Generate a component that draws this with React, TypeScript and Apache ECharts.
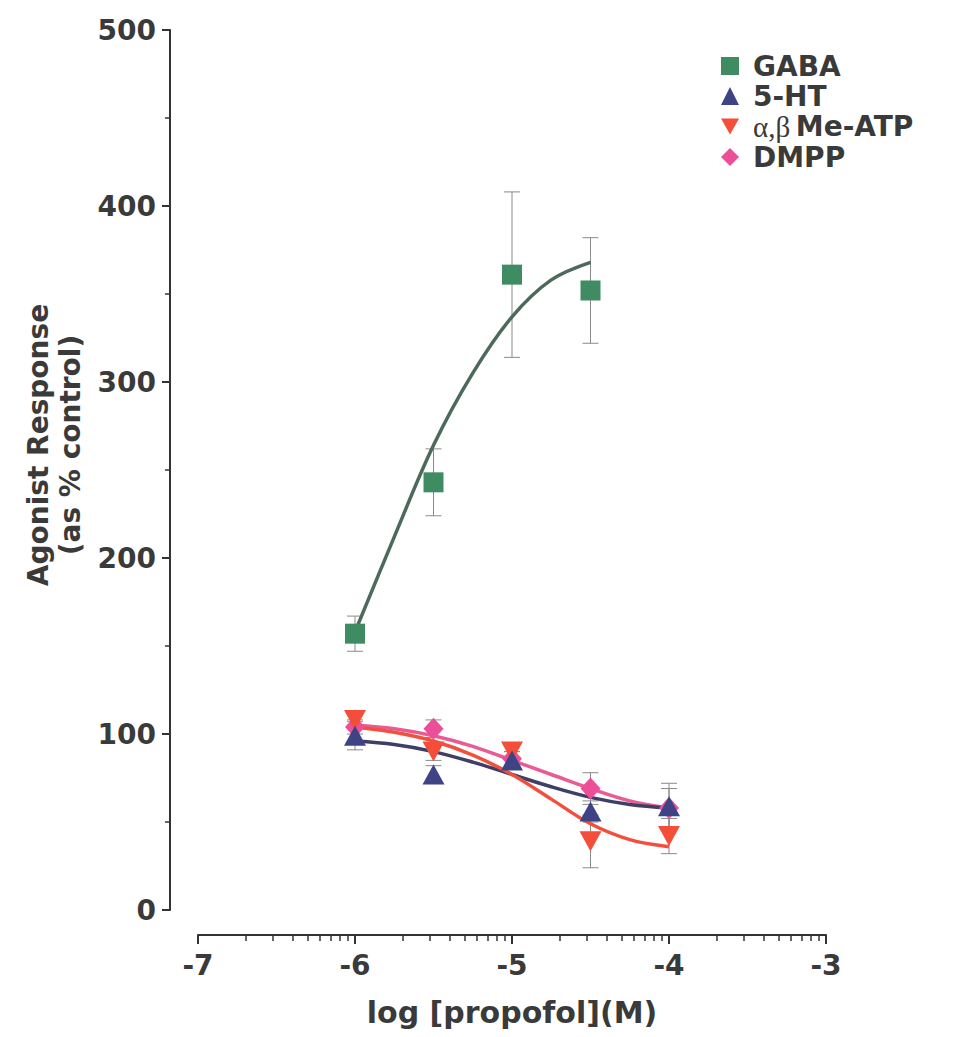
import React, { useEffect, useRef } from "react";
import * as echarts from "echarts";

// ---- data ----
const concentrations = [-6, -5.5, -5, -4.5, -4];
const gabaConc = [-6, -5.5, -5, -4.5];
const gabaMean = [157, 243, 361, 352];
const gabaSem = [10, 19, 47, 30];
const htMean = [99, 77, 85, 56, 59];
const htSem = [8, 5, 5, 6, 13];
const atpMean = [108, 90, 90, 39, 42];
const atpSem = [4, 5, 4, 15, 10];
const dmppMean = [104, 103, 86, 69, 58];
const dmppSem = [4, 5, 4, 9, 11];

const fitX = [-6, -5.75, -5.5, -5.25, -5, -4.75, -4.5, -4.25, -4];
const gabaFitX = [-6, -5.75, -5.5, -5.25, -5, -4.75, -4.5];
const gabaFit = [158, 212, 264, 305, 337, 358, 368];
const htFit = [96, 94, 90, 84, 77, 70, 64, 60, 58];
const atpFit = [104, 101, 96, 88, 77, 63, 49, 40, 36];
const dmppFit = [105, 103, 99, 93, 85, 77, 69, 62, 58];

const xMajorTicks = [-7, -6, -5, -4, -3];
const xMinorTicks: number[] = [];
for (let d = -7; d < -3; d++) {
  for (let k = 2; k <= 9; k++) xMinorTicks.push(d + Math.log10(k));
}

const NAMES = ["GABA", "5-HT", "α,βMe-ATP", "DMPP"];
const INV_TRI = "path://M0,0L10,0L5,9Z";
const F = '"DejaVu Sans", "Liberation Sans", sans-serif';
const TXT = "#3a3a3a";
const AX = "#333333";

export default function App() {
  const ref = useRef<HTMLDivElement>(null);
  useEffect(() => {
    if (!ref.current) return;
    const chart = echarts.init(ref.current, undefined, { renderer: "svg" });
    const pairs = (xs: number[], ys: number[]) => ys.map((y, i) => [xs[i], y]);
    const errs = (xs: number[], ys: number[], es: number[]) => ys.map((y, i) => [xs[i], y, es[i]]);
    const errData = [
      ...errs(gabaConc, gabaMean, gabaSem),
      ...errs(concentrations, htMean, htSem),
      ...errs(concentrations, atpMean, atpSem),
      ...errs(concentrations, dmppMean, dmppSem),
    ];
    const fitLine = (name: string, data: number[][], color: string) => ({
      name,
      type: "line",
      xAxisIndex: 0,
      data,
      smooth: 0.35,
      symbol: "none",
      lineStyle: { color, width: 3.5 },
      z: 2,
      silent: true,
    });
    const markers = (name: string, xs: number[], ys: number[], symbol: string, size: any, color: string) => ({
      name,
      type: "scatter",
      xAxisIndex: 0,
      data: pairs(xs, ys),
      symbol,
      symbolSize: size,
      itemStyle: { color, opacity: 1 },
      z: 3,
    });
    chart.setOption({
      animation: false,
      backgroundColor: "#ffffff",
      grid: { left: 198, right: 138, top: 30, bottom: 127, containLabel: false },
      legend: {
        orient: "vertical",
        left: 716,
        top: 47,
        itemGap: 2,
        itemWidth: 18,
        itemHeight: 18,
        selectedMode: false,
        data: [
          { name: NAMES[0], icon: "rect" },
          { name: NAMES[1], icon: "triangle" },
          { name: NAMES[2], icon: INV_TRI },
          { name: NAMES[3], icon: "diamond" },
        ],
        formatter: (n: string) => (n === NAMES[2] ? "{g|α,β}\u2009Me-ATP" : n),
        textStyle: {
          fontSize: 28,
          fontWeight: "bold",
          fontFamily: F,
          color: TXT,
          lineHeight: 28,
          padding: [0, 0, 0, 9],
          rich: {
            g: {
              fontFamily: '"Liberation Serif", serif',
              fontWeight: "normal",
              fontSize: 29,
              lineHeight: 28,
              color: TXT,
            },
          },
        },
      },
      xAxis: [
        {
          type: "value",
          min: xMajorTicks[0],
          max: xMajorTicks[xMajorTicks.length - 1],
          interval: 1,
          position: "bottom",
          offset: 25,
          axisLine: { show: true, onZero: false, lineStyle: { color: AX, width: 2 } },
          axisTick: { show: true, length: 9, lineStyle: { color: AX, width: 2 } },
          axisLabel: { fontSize: 28, fontWeight: "bold", fontFamily: F, color: TXT, margin: 16 },
          splitLine: { show: false },
          name: "log [propofol](M)",
          nameLocation: "middle",
          nameGap: 62,
          nameTextStyle: { fontSize: 30, fontWeight: "bold", fontFamily: F, color: TXT },
        },
        {
          type: "value",
          min: xMajorTicks[0],
          max: xMajorTicks[xMajorTicks.length - 1],
          position: "bottom",
          offset: 25,
          axisLine: { show: false, onZero: false },
          axisTick: { show: true, customValues: xMinorTicks, length: 6, lineStyle: { color: AX, width: 1.5 } },
          axisLabel: { show: false },
          splitLine: { show: false },
        },
      ],
      yAxis: {
        type: "value",
        min: 0,
        max: 500,
        interval: 100,
        position: "left",
        offset: 28,
        axisLine: { show: true, lineStyle: { color: AX, width: 2 } },
        axisTick: { show: true, length: 8, lineStyle: { color: AX, width: 2 } },
        minorTick: { show: true, splitNumber: 2, length: 5, lineStyle: { color: AX, width: 1.5 } },
        minorSplitLine: { show: false },
        axisLabel: { fontSize: 28, fontWeight: "bold", fontFamily: F, color: TXT, margin: 14 },
        splitLine: { show: false },
        name: "Agonist Response\n(as % control)",
        nameLocation: "middle",
        nameRotate: 90,
        nameGap: 84,
        nameTextStyle: {
          fontSize: 28,
          fontWeight: "bold",
          fontFamily: F,
          color: TXT,
          lineHeight: 32,
          padding: [0, 0, 0, 50],
        },
      },
      series: [
        {
          name: "errors",
          type: "custom",
          xAxisIndex: 0,
          data: errData,
          encode: { x: 0, y: 1 },
          z: 1,
          silent: true,
          renderItem: (params: any, api: any) => {
            const x = api.value(0);
            const y = api.value(1);
            const e = api.value(2);
            const top = api.coord([x, y + e]);
            const bot = api.coord([x, y - e]);
            const w = 8;
            const st = { stroke: "#8a8a8a", lineWidth: 1 };
            return {
              type: "group",
              children: [
                { type: "line", shape: { x1: top[0], y1: top[1], x2: bot[0], y2: bot[1] }, style: st },
                { type: "line", shape: { x1: top[0] - w, y1: top[1], x2: top[0] + w, y2: top[1] }, style: st },
                { type: "line", shape: { x1: bot[0] - w, y1: bot[1], x2: bot[0] + w, y2: bot[1] }, style: st },
              ],
            };
          },
        },
        fitLine("GABA fit", pairs(gabaFitX, gabaFit), "#4c6a5c"),
        fitLine("DMPP fit", pairs(fitX, dmppFit), "#ea5a93"),
        fitLine("5-HT fit", pairs(fitX, htFit), "#3d3f66"),
        fitLine("ATP fit", pairs(fitX, atpFit), "#f2503e"),
        markers(NAMES[0], gabaConc, gabaMean, "rect", 20, "#3f8c63"),
        markers(NAMES[3], concentrations, dmppMean, "diamond", [20, 22], "#ea4f98"),
        markers(NAMES[2], concentrations, atpMean, INV_TRI, [22, 20], "#f44d3a"),
        markers(NAMES[1], concentrations, htMean, "triangle", [22, 20], "#3e4386"),
      ],
    });
    return () => chart.dispose();
  }, []);
  return (
    <div
      ref={ref}
      style={{ position: "fixed", left: 0, top: 0, width: 964, height: 1037, background: "#fff" }}
    />
  );
}
